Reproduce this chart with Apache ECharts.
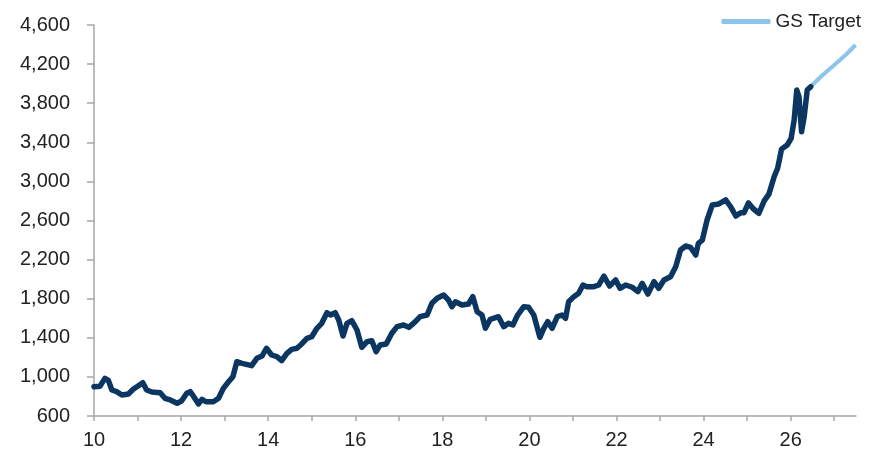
<!DOCTYPE html>
<html>
<head>
<meta charset="utf-8">
<script src="https://cdn.jsdelivr.net/npm/echarts@6/dist/echarts.min.js"></script>
<style>html,body{margin:0;padding:0;background:#fff}#c{width:869px;height:450px}</style>
</head>
<body>
<div id="c"></div>
<script>
// Years (decimal, 2-digit) and index level
const years = [10.00,10.14,10.25,10.33,10.41,10.52,10.64,10.79,10.90,11.02,11.12,11.21,11.33,11.52,11.63,11.75,11.91,12.01,12.13,12.21,12.28,12.40,12.48,12.57,12.74,12.86,12.97,13.09,13.19,13.28,13.40,13.62,13.74,13.86,13.96,14.08,14.20,14.31,14.43,14.54,14.66,14.77,14.89,15.00,15.12,15.23,15.35,15.43,15.54,15.62,15.72,15.81,15.92,16.04,16.15,16.27,16.38,16.48,16.57,16.71,16.84,16.96,17.11,17.23,17.38,17.49,17.65,17.76,17.88,18.03,18.14,18.22,18.30,18.45,18.60,18.70,18.80,18.91,18.99,19.10,19.29,19.41,19.52,19.62,19.73,19.87,19.98,20.10,20.24,20.33,20.42,20.52,20.64,20.75,20.83,20.90,21.02,21.13,21.23,21.32,21.48,21.59,21.71,21.84,21.98,22.08,22.21,22.36,22.49,22.59,22.72,22.86,22.97,23.09,23.24,23.36,23.47,23.59,23.70,23.82,23.88,23.97,24.08,24.20,24.35,24.51,24.62,24.74,24.85,24.93,25.03,25.14,25.27,25.39,25.50,25.62,25.70,25.79,25.92,26.01,26.08,26.14,26.19,26.25,26.31,26.38,26.46];
const index = [900,905,985,965,866,849,815,825,873,910,940,866,845,838,781,764,730,753,832,849,805,723,771,746,746,781,883,951,1002,1155,1139,1115,1190,1214,1293,1224,1207,1166,1241,1282,1293,1337,1395,1411,1497,1548,1657,1633,1657,1582,1418,1548,1575,1480,1303,1360,1370,1258,1326,1337,1446,1514,1531,1507,1565,1616,1633,1753,1804,1838,1787,1718,1769,1735,1746,1821,1667,1633,1497,1589,1616,1514,1548,1531,1633,1718,1712,1633,1405,1497,1565,1497,1616,1633,1599,1769,1821,1855,1940,1923,1923,1940,2032,1930,1991,1906,1940,1917,1872,1957,1848,1974,1906,1991,2025,2127,2298,2339,2326,2247,2367,2400,2605,2759,2769,2810,2741,2646,2680,2680,2780,2720,2674,2800,2870,3048,3134,3330,3372,3441,3628,3935,3867,3508,3662,3935,3969];
const targetYears = [26.46,26.69,27.00,27.26,27.49];
const targetValues = [3969,4071,4191,4293,4395];
const yTicks = [600,1000,1400,1800,2200,2600,3000,3400,3800,4200,4600];
const xLabels = [10,12,14,16,18,20,22,24,26];

const chart = echarts.init(document.getElementById('c'), null, {renderer:'canvas'});
const font = "'Liberation Sans', Arial, sans-serif";
chart.setOption({
  animation:false,
  backgroundColor:'#ffffff',
  grid:{left:94,right:13,top:25,bottom:34,containLabel:false},
  legend:{
    right:3, top:7, itemWidth:49, itemHeight:5, icon:'roundRect',
    data:['GS Target'],
    textStyle:{fontFamily:font,fontSize:19,color:'#222'}
  },
  xAxis:{
    type:'value', min:10, max:27.5, interval:1,
    axisLine:{lineStyle:{color:'#a6a6a6',width:1.5}},
    axisTick:{length:5,lineStyle:{color:'#a6a6a6',width:1.5}},
    splitLine:{show:false},
    axisLabel:{
      margin:14, fontFamily:font, fontSize:20, color:'#222',
      showMaxLabel:false,
      formatter:v => xLabels.indexOf(v) >= 0 ? String(v) : ''
    }
  },
  yAxis:{
    type:'value', min:yTicks[0], max:yTicks[yTicks.length-1], interval:400,
    axisLine:{show:true,lineStyle:{color:'#a6a6a6',width:1.5}},
    axisTick:{show:true,length:7,lineStyle:{color:'#a6a6a6',width:1.5}},
    splitLine:{show:false},
    axisLabel:{
      margin:24, fontFamily:font, fontSize:20, color:'#222',
      formatter:v => v.toLocaleString('en-US')
    }
  },
  series:[
    {
      name:'GS Target', type:'line', showSymbol:false, symbol:'none', z:2,
      data:targetYears.map((x,i)=>[x,targetValues[i]]),
      lineStyle:{color:'#8cc4ea',width:4},
      itemStyle:{color:'#8cc4ea'}
    },
    {
      name:'Index', type:'line', showSymbol:false, symbol:'none', z:3,
      data:years.map((x,i)=>[x,index[i]]),
      lineStyle:{color:'#0b3661',width:5.5,join:'round',cap:'round'},
      itemStyle:{color:'#0b3661'}
    }
  ]
});
</script>
</body>
</html>
